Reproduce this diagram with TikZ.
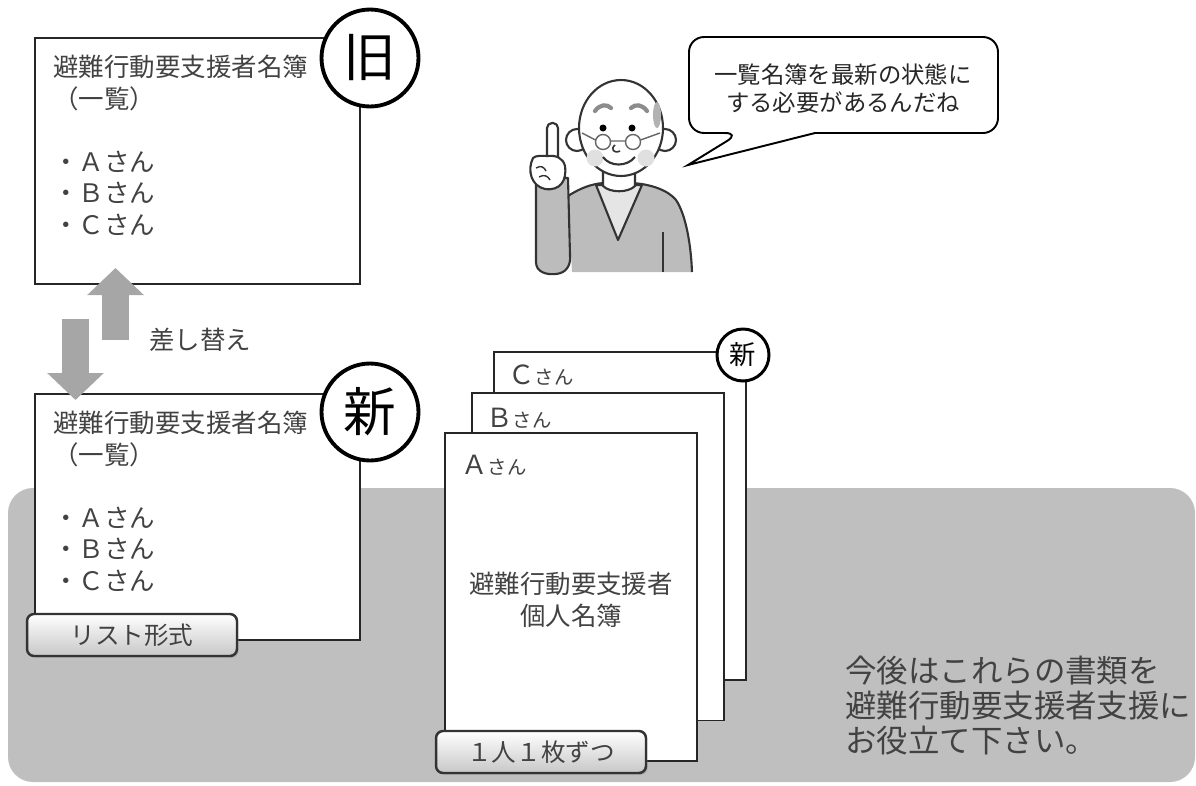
\documentclass[tikz,border=0pt]{standalone}
\usepackage{fontspec}
\setmainfont{Noto Sans CJK JP}
\usetikzlibrary{arrows.meta,shadows,positioning}

\definecolor{bandgray}{RGB}{191,191,191}
\definecolor{swapgray}{RGB}{166,166,166}
\definecolor{inkgray}{RGB}{66,66,66}
\definecolor{sweater}{RGB}{188,188,188}

% smaller kana after the initials on the sheets
\newcommand\smallsan{{\fontsize{11}{13}\selectfont さん}}

\tikzset{
  listbox/.style={draw=black!85, line width=1.1pt, fill=white, anchor=north west,
    minimum width=6.5cm, minimum height=4.92cm, inner sep=0pt},
  sheet/.style={draw=black!85, line width=1.1pt, fill=white,
    minimum width=5.04cm, minimum height=6.56cm, inner sep=0pt},
  stamp/.style={circle, draw=black, line width=2.2pt, fill=white, inner sep=0pt,
    minimum size=1.94cm, font=\fontsize{30}{30}\selectfont},
  tagbox/.style={draw=black!80, line width=1.4pt, rounded corners=4pt,
    top color=white, bottom color=black!22, text=inkgray,
    minimum width=4.2cm, minimum height=0.84cm, font=\fontsize{14}{16}\selectfont,
    drop shadow={opacity=0.35, shadow xshift=1pt, shadow yshift=-1pt}},
  listtext/.style={text=inkgray, font=\fontsize{14.5}{17.9}\selectfont, inner sep=0pt},
  swaparrow/.style={draw=swapgray, line width=0.54cm,
    -{Triangle[length=0.54cm, width=1.1cm]}},
  outline/.style={draw=black!80, line width=1.2pt, line join=round},
}

\begin{document}
\begin{tikzpicture}[x=0.02cm, y=-0.02cm]
  \useasboundingbox (0,0) rectangle (1196,785);

  % grey band behind the lower half
  \fill[bandgray, rounded corners=0.5cm] (8,488) rectangle (1195,782);

  % old list
  \node[listbox] (old) at (34,37) {};
  \node[listtext, anchor=north west, align=left] (oldtxt) at (53,55)
    {避難行動要支援者名簿\\（一覧）\\[17.9pt]・Ａさん\\・Ｂさん\\・Ｃさん};
  \node[stamp] (oldmark) at (370,58) {旧};

  % new list
  \node[listbox] (new) at (34,393) {};
  \node[listtext, anchor=north west, align=left] (newtxt) at (53,411)
    {避難行動要支援者名簿\\（一覧）\\[17.9pt]・Ａさん\\・Ｂさん\\・Ｃさん};
  \node[stamp] (newmark) at (370,412) {新};
  \node[tagbox] (listtag) at (132,635) {リスト形式};

  % swap arrows
  \coordinate (upfoot) at (115.5,340);
  \coordinate (uptip) at (115.5,268);
  \coordinate (downfoot) at (75.5,319);
  \coordinate (downtip) at (75.5,400);
  \draw[swaparrow] (upfoot) -- (uptip);
  \draw[swaparrow] (downfoot) -- (downtip);
  \node[listtext] (swaplabel) at (200,340) {差し替え};

  % individual sheets, back to front
  \node[sheet] (sheetC) at (620,516) {};
  \node[sheet] (sheetB) at (598,556.5) {};
  \node[sheet] (sheetA) at (571,597) {};
  \node[stamp, minimum size=1.04cm, line width=1.7pt,
    font=\fontsize{15}{15}\selectfont] (sheetmark) at (743,355) {新};
  \node[listtext, anchor=west, font=\fontsize{15}{15}\selectfont] (nameC) at (508,375) {Ｃ\smallsan};
  \node[listtext, anchor=west, font=\fontsize{15}{15}\selectfont] (nameB) at (486,418) {Ｂ\smallsan};
  \node[listtext, anchor=west, font=\fontsize{15}{15}\selectfont] (nameA) at (461,465) {Ａ\smallsan};
  \node[listtext, align=center] (sheettitle) at (571,600) {避難行動要支援者\\個人名簿};
  \node[tagbox] (sheettag) at (541,752) {１人１枚ずつ};

  % closing remark
  \node[listtext, anchor=north west, align=left,
    font=\fontsize{17.9}{19.8}\selectfont] (remark) at (845,656)
    {今後はこれらの書類を\\避難行動要支援者支援に\\お役立て下さい。};

  % speech bubble
  \draw[line width=1.1pt, fill=white] (740,133) [sharp corners] -- (688,165) -- (815,133)
    [rounded corners=0.3cm] -- (998,133) -- (998,37) -- (689,37) -- (689,133) -- cycle;
  \node[text=black!85, font=\fontsize{13.3}{15.9}\selectfont, align=center] (say)
    at (843,89) {一覧名簿を最新の状態に\\する必要があるんだね};

  % old man pointing up
  \fill[sweater] (568,196) .. controls (585,185) and (598,183) .. (606,183) -- (632,183)
    .. controls (650,184) and (668,190) .. (676,200)
    .. controls (686,215) and (691,245) .. (692,272) -- (572,272) -- cycle;
  \draw[outline] (568,196) .. controls (585,185) and (598,183) .. (606,183) -- (632,183)
    .. controls (650,184) and (668,190) .. (676,200)
    .. controls (686,215) and (691,245) .. (692,272);
  \filldraw[outline, fill=black!10] (596,185) -- (618,240) -- (642,185) -- cycle;
  \filldraw[outline, fill=white] (603,168) -- (603,186) .. controls (610,193) and (628,193)
    .. (635,186) -- (635,168) -- cycle;
  \draw[outline] (663,232) -- (663,272);
  \filldraw[outline, fill=sweater] (536,178) -- (536,262) .. controls (536,272) and (546,275)
    .. (556,274) .. controls (566,273) and (571,266) .. (570,255) -- (568,178) -- cycle;
  \filldraw[outline, fill=white, rounded corners=0.1cm] (547,164) -- (547,123) -- (558,123) -- (558,164);
  \filldraw[outline, fill=white] (533,158) .. controls (527,170) and (531,186) .. (545,189)
    .. controls (560,191) and (567,181) .. (565,166) .. controls (563,158) and (556,155)
    .. (548,156) .. controls (542,156) and (536,155) .. (533,158) -- cycle;
  \draw[outline, line width=0.8pt] (536,168) .. controls (541,165) and (544,167) .. (546,171)
    (539,177) .. controls (544,174) and (548,176) .. (550,180);
  \filldraw[outline, fill=white] (577,140) circle (0.22cm);
  \filldraw[outline, fill=white] (665,140) circle (0.22cm);
  \filldraw[outline, fill=white] (621,128) ellipse [x radius=0.84cm, y radius=0.96cm];
  \fill[black!30] (657,115) ellipse [x radius=0.08cm, y radius=0.26cm];
  \draw[black!45, line width=2.4pt, line cap=round] (595,111) .. controls (600,104) and (607,104) .. (611,108);
  \draw[black!45, line width=2.4pt, line cap=round] (631,108) .. controls (635,104) and (642,104) .. (647,111);
  \fill (603,128) circle (0.07cm);
  \fill (632,128) circle (0.07cm);
  \fill[black!12] (595,158) circle (0.17cm);
  \fill[black!12] (646,158) circle (0.17cm);
  \draw[black!60, line width=0.8pt] (603,142) circle (0.15cm);
  \draw[black!60, line width=0.8pt] (633,142) circle (0.15cm);
  \draw[black!60, line width=0.8pt] (610.5,141) -- (625.5,141) (595.5,140) -- (582,133) (640.5,140) -- (660,133);
  \draw[outline, line width=0.9pt] (615,145) .. controls (610,149) and (614,154) .. (620,151);
  \draw[outline] (603,157) .. controls (610,167) and (627,167) .. (635,157);
\end{tikzpicture}
\end{document}
